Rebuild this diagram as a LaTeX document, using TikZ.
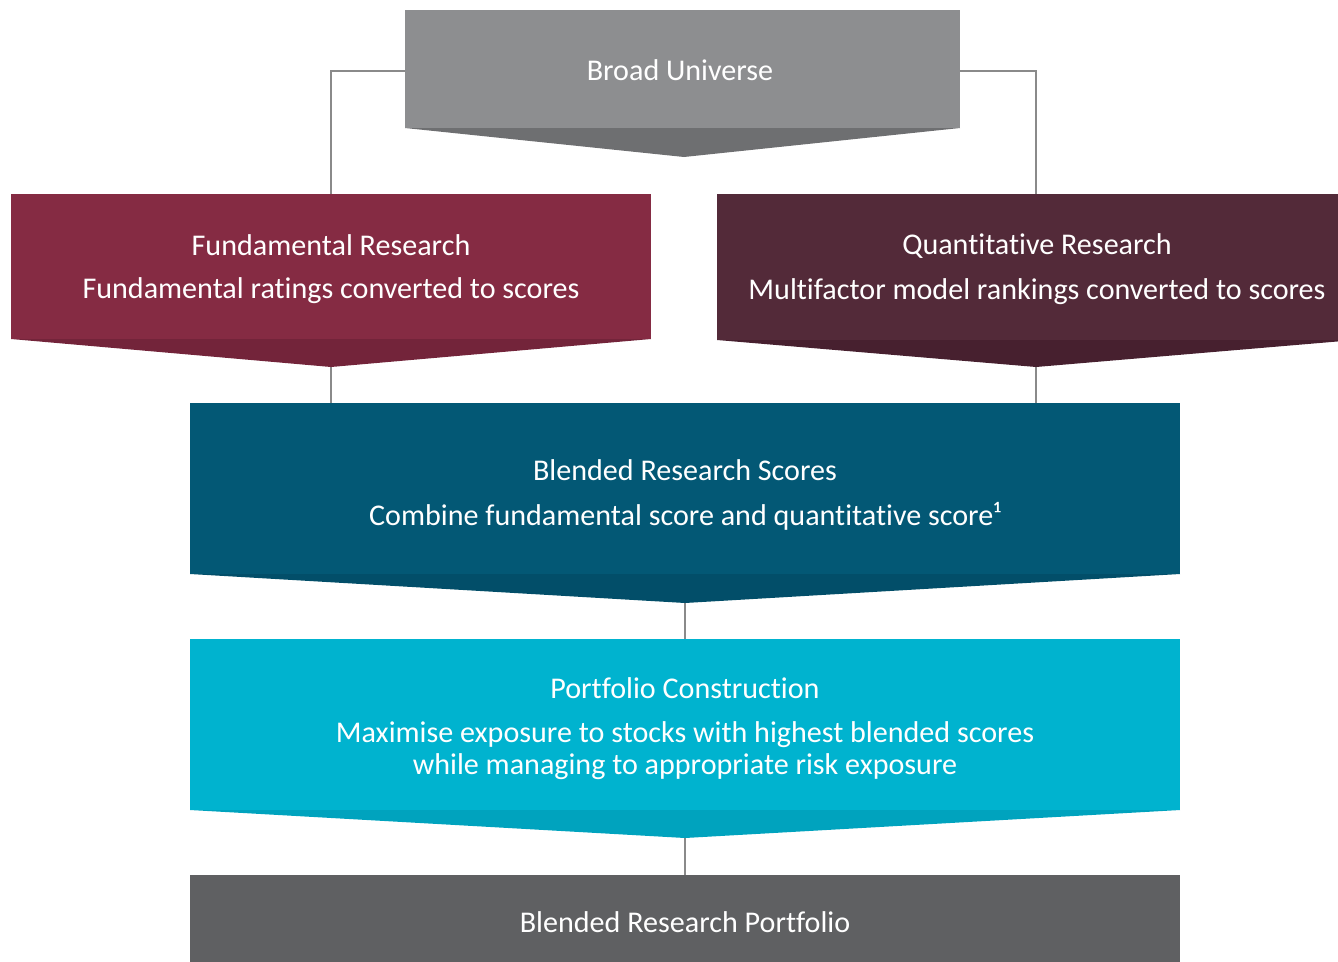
\documentclass[tikz,border=0pt]{standalone}
\usepackage{fontspec}
\setmainfont[Ligatures=NoCommon]{Carlito}
\usetikzlibrary{calc}

\definecolor{buTop}{HTML}{8D8E90}
\definecolor{buDark}{HTML}{6E6F71}
\definecolor{fundTop}{HTML}{852B43}
\definecolor{fundDark}{HTML}{73243A}
\definecolor{quantTop}{HTML}{532A39}
\definecolor{quantDark}{HTML}{47202F}
\definecolor{blendTop}{HTML}{035875}
\definecolor{blendDark}{HTML}{024E69}
\definecolor{portTop}{HTML}{00B3CF}
\definecolor{portDark}{HTML}{00A3BE}
\definecolor{finalFill}{HTML}{5F6062}
\definecolor{linkGray}{HTML}{8A8A8A}

\begin{document}
\begin{tikzpicture}[x=1pt,y=-1pt,
  panel/.style={draw=none, inner sep=0pt, outer sep=0pt},
  txt/.style={text=white, inner sep=0pt, font=\fontsize{30.1}{36}\selectfont},
  conn/.style={draw=linkGray, line width=1.2pt}]

\useasboundingbox (0,0) rectangle (1338,961);
\clip (0,0) rectangle (1338,961);

% chevron tips
\coordinate (butip) at (684,157);
\coordinate (fundtip) at (331,367);
\coordinate (quanttip) at (1036,367);
\coordinate (blendtip) at (685,603);
\coordinate (porttip) at (685,838);

% panel outlines (filled below)
\node[panel, minimum width=555, minimum height=118] (bu) at (682.5,69) {};
\node[panel, minimum width=640, minimum height=145] (fund) at (331,266.5) {};
\node[panel, minimum width=638, minimum height=146] (quant) at (1036,267) {};
\node[panel, minimum width=990, minimum height=171] (blend) at (685,488.5) {};
\node[panel, minimum width=990, minimum height=171] (port) at (685,724.5) {};
\node[panel, minimum width=990, minimum height=90] (final) at (685,920) {};

% connectors (behind the panels)
\draw[conn] ([yshift=-2pt]bu.west) -| (fund.north);
\draw[conn] ([yshift=-2pt]bu.east) -| (quant.north);
\draw[conn] (fundtip) -- (fundtip |- blend.north);
\draw[conn] (quanttip) -- (quanttip |- blend.north);
\draw[conn] (blendtip) -- (port.north);
\draw[conn] (porttip) -- (final.north);

% panels with their chevron points
\fill[buTop] (bu.north west) rectangle (bu.south east);
\fill[buDark] (bu.south west) -- (bu.south east) -- (butip) -- cycle;

\fill[fundTop] (fund.north west) rectangle (fund.south east);
\fill[fundDark] (fund.south west) -- (fund.south east) -- (fundtip) -- cycle;

\fill[quantTop] (quant.north west) rectangle (quant.south east);
\fill[quantDark] (quant.south west) -- (quant.south east) -- (quanttip) -- cycle;

\fill[blendTop] (blend.north west) rectangle (blend.south east);
\fill[blendDark] (blend.south west) -- (blend.south east) -- (blendtip) -- cycle;

\fill[portTop] (port.north west) rectangle (port.south east);
\fill[portDark] (port.south west) -- (port.south east) -- (porttip) -- cycle;

\fill[finalFill] (final.north west) rectangle (final.south east);

% texts
\node[txt] (buT) at (680,70) {Broad Universe};

\node[txt] (fundT) at (331,245) {Fundamental Research};
\node[txt] (fundS) at (331,291) {Fundamental ratings converted to scores};

\node[txt] (quantT) at (1037,246.5) {Quantitative Research};
\node[txt] (quantS) at (1037,292) {Multifactor model rankings converted to scores};

\node[txt] (blendT) at (685,470) {Blended Research Scores};
\node[txt] (blendS) at (685,516) {Combine fundamental score and quantitative score¹};

\node[txt] (portT) at (685,688) {Portfolio Construction};
\node[txt] (portS1) at (685,735) {Maximise exposure to stocks with highest blended scores};
\node[txt] (portS2) at (685,767) {while managing to appropriate risk exposure};

\node[txt] (finalT) at (685,922) {Blended Research Portfolio};
\end{tikzpicture}
\end{document}
